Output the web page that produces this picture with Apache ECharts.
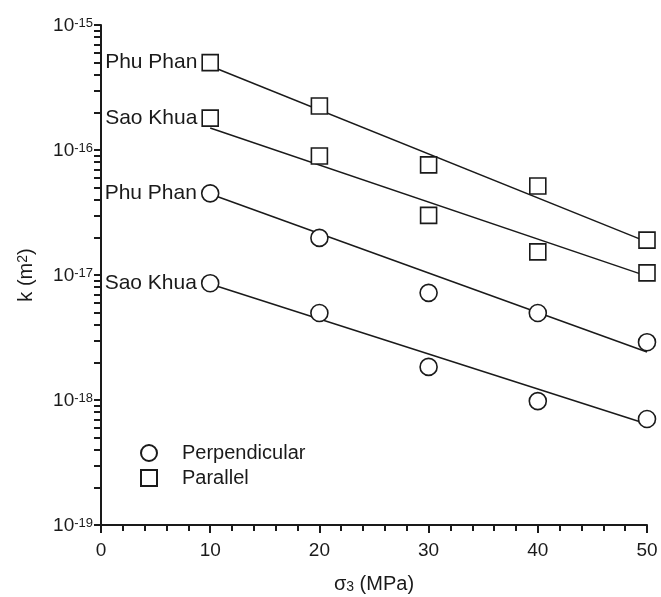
<!DOCTYPE html>
<html>
<head>
<meta charset="utf-8">
<script src="https://cdn.jsdelivr.net/npm/echarts@6/dist/echarts.min.js"></script>
<style>
  html, body { margin: 0; padding: 0; background: #fff; }
  #chart { width: 661px; height: 597px; }
</style>
</head>
<body>
<div id="chart"></div>
<script>
  // confining stress sigma3 (MPa)
  var sigma3 = [10, 20, 30, 40, 50];
  // permeability k (m2)
  var parPhuPhan = [5.0e-16, 2.25e-16, 7.6e-17, 5.15e-17, 1.9e-17];
  var parSaoKhua = [1.8e-16, 8.95e-17, 3.0e-17, 1.53e-17, 1.04e-17];
  var perpPhuPhan = [4.5e-17, 1.98e-17, 7.2e-18, 4.97e-18, 2.9e-18];
  var perpSaoKhua = [8.6e-18, 4.97e-18, 1.84e-18, 9.8e-19, 7.05e-19];
  // fitted lines, end points at 10 and 50 MPa
  var fitX = [10, 50];
  var fitParPhuPhan = [4.7e-16, 1.84e-17];
  var fitParSaoKhua = [1.5e-16, 9.8e-18];
  var fitPerpPhuPhan = [4.45e-17, 2.42e-18];
  var fitPerpSaoKhua = [8.47e-18, 6.43e-19];
  var xTicks = [0, 10, 20, 30, 40, 50];
  var yDecades = [1e-19, 1e-18, 1e-17, 1e-16, 1e-15];
  var yMinorSteps = [1, 2, 3, 4, 5, 6, 7, 8, 9];

  // log axis ticks break on values this small, so plot in units of 1e-19 m2
  var SCALE = 1e19;
  var FONT = '"Liberation Sans", Arial, sans-serif';
  var INK = '#1a1a1a';

  // tick marks at 1..9 x each decade
  var yTickValues = [];
  yDecades.forEach(function (d, i) {
    if (i === yDecades.length - 1) {
      yTickValues.push(Math.round(d * SCALE));
      return;
    }
    yMinorSteps.forEach(function (m) {
      yTickValues.push(Math.round(m * d * SCALE));
    });
  });

  function pts(xs, ys, label) {
    return xs.map(function (x, i) {
      var item = { value: [x, ys[i] * SCALE] };
      if (label && i === 0) {
        item.label = { show: true, formatter: label };
      }
      return item;
    });
  }

  function scatter(name, symbol, size, ys, label) {
    return {
      name: name,
      type: 'scatter',
      symbol: symbol,
      symbolSize: size,
      z: 5,
      itemStyle: { color: '#fff', borderColor: INK, borderWidth: 1.6, opacity: 1 },
      label: {
        show: false, position: 'left', distance: 4,
        color: INK, fontSize: 21, fontFamily: FONT
      },
      data: pts(sigma3, ys, label)
    };
  }

  function fit(ys) {
    return {
      type: 'line',
      showSymbol: false,
      silent: true,
      z: 2,
      lineStyle: { color: INK, width: 1.5 },
      data: pts(fitX, ys)
    };
  }

  var chart = echarts.init(document.getElementById('chart'));
  var option = {
    animation: false,
    backgroundColor: '#fff',
    grid: { left: 101, right: 14, top: 25, bottom: 72, containLabel: false, outerBoundsMode: 'none' },
    legend: {
      data: ['Perpendicular', 'Parallel'],
      orient: 'vertical',
      left: 135,
      top: 438,
      itemWidth: 16,
      itemHeight: 16,
      itemGap: 5,
      textStyle: { color: INK, fontSize: 20, fontFamily: FONT, lineHeight: 20, padding: [0, 0, 0, 20] }
    },
    xAxis: {
      type: 'value',
      min: xTicks[0],
      max: xTicks[xTicks.length - 1],
      interval: 10,
      name: '{a|σ}{sub|3}{a| (MPa)}',
      nameLocation: 'middle',
      nameGap: 49,
      nameTextStyle: {
        rich: {
          a: { fontSize: 20, fontFamily: FONT, color: INK, lineHeight: 20, verticalAlign: 'top' },
          sub: { fontSize: 14, fontFamily: FONT, color: INK, lineHeight: 14, verticalAlign: 'bottom', padding: [9, 0, 0, 0] }
        }
      },
      axisLine: { show: true, onZero: false, lineStyle: { color: INK, width: 2 } },
      axisTick: { show: true, length: 8, lineStyle: { color: INK, width: 2 } },
      minorTick: { show: true, splitNumber: 5, length: 6, lineStyle: { color: INK, width: 2 } },
      axisLabel: { color: INK, fontSize: 19, fontFamily: FONT, margin: 16 },
      splitLine: { show: false }
    },
    yAxis: {
      type: 'log',
      logBase: 10,
      min: yDecades[0] * SCALE,
      max: yDecades[yDecades.length - 1] * SCALE,
      name: '{a|k (m}{sup|2}{a|)}',
      nameLocation: 'middle',
      nameGap: 65,
      nameTextStyle: {
        rich: {
          a: { fontSize: 20, fontFamily: FONT, color: INK, lineHeight: 20, verticalAlign: 'bottom' },
          sup: { fontSize: 14, fontFamily: FONT, color: INK, lineHeight: 14, verticalAlign: 'top', padding: [0, 0, 8, 0] }
        }
      },
      axisLine: { show: true, lineStyle: { color: INK, width: 2 } },
      axisTick: { show: true, length: 7, customValues: yTickValues, lineStyle: { color: INK, width: 2 } },
      minorTick: { show: false },
      axisLabel: {
        margin: 8,
        customValues: yDecades.map(function (d) { return Math.round(d * SCALE); }),
        formatter: function (v) {
          var e = Math.round(Math.log10(v / SCALE));
          return '{b|10}{s|' + e + '}';
        },
        rich: {
          b: { fontSize: 19, fontFamily: FONT, color: INK, lineHeight: 20, verticalAlign: 'bottom', padding: [6, 0, 0, 0] },
          s: { fontSize: 13, fontFamily: FONT, color: INK, lineHeight: 14, verticalAlign: 'top', padding: [2, 0, 10, 0] }
        }
      },
      splitLine: { show: false }
    },
    series: [
      fit(fitParPhuPhan),
      fit(fitParSaoKhua),
      fit(fitPerpPhuPhan),
      fit(fitPerpSaoKhua),
      scatter('Parallel', 'rect', 16, parPhuPhan, 'Phu Phan'),
      scatter('Parallel', 'rect', 16, parSaoKhua, 'Sao Khua'),
      scatter('Perpendicular', 'circle', 17, perpPhuPhan, 'Phu Phan'),
      scatter('Perpendicular', 'circle', 17, perpSaoKhua, 'Sao Khua')
    ]
  };
  chart.setOption(option);
</script>
</body>
</html>
